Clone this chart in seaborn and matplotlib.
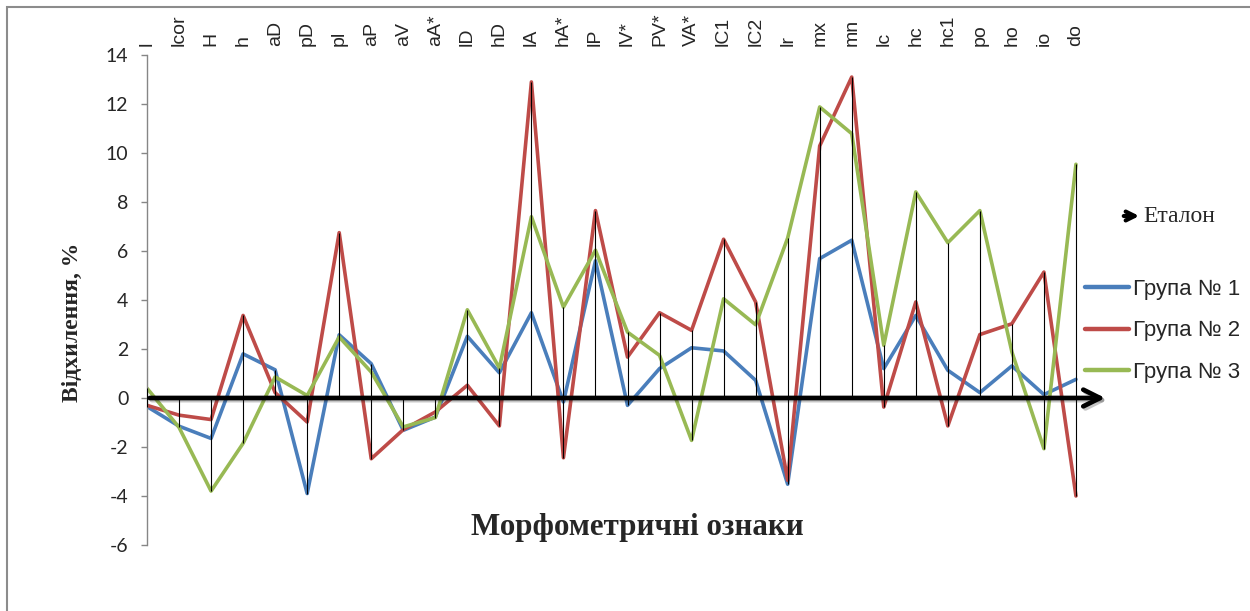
import numpy as np
import pandas as pd
import matplotlib
matplotlib.use("Agg")
import matplotlib.pyplot as plt
import matplotlib.patheffects as pe
from matplotlib.patches import Rectangle
import seaborn as sns

categories = ["l", "lcor", "H", "h", "aD", "pD", "pl", "aP", "aV", "aA*",
              "lD", "hD", "lA", "hA*", "lP", "lV*", "PV*", "VA*", "lC1", "lC2",
              "lr", "mx", "mn", "lc", "hc", "hc1", "po", "ho", "io", "do"]
group1 = [-0.35, -1.15, -1.65, 1.8, 1.15, -3.9, 2.58, 1.4, -1.32, -0.78,
          2.52, 1.03, 3.48, -0.16, 5.6, -0.3, 1.2, 2.05, 1.92, 0.72,
          -3.52, 5.69, 6.44, 1.2, 3.37, 1.13, 0.22, 1.31, 0.14, 0.76]
group2 = [-0.3, -0.7, -0.88, 3.37, 0.22, -0.98, 6.75, -2.48, -1.29, -0.57,
          0.52, -1.14, 12.9, -2.44, 7.65, 1.67, 3.48, 2.76, 6.48, 3.92,
          -3.36, 10.29, 13.1, -0.37, 3.92, -1.14, 2.59, 3.03, 5.14, -4.0]
group3 = [0.4, -1.2, -3.8, -1.85, 0.86, 0.1, 2.49, 1.06, -1.18, -0.8,
          3.6, 1.22, 7.4, 3.71, 6.03, 2.69, 1.74, -1.73, 4.05, 2.99,
          6.53, 11.88, 10.79, 2.15, 8.41, 6.34, 7.65, 1.88, -2.07, 9.54]
etalon = [0.0] * len(categories)
series_names = ["Група № 1", "Група № 2", "Група № 3"]
yticks = [-6, -4, -2, 0, 2, 4, 6, 8, 10, 12, 14]

sns.set_theme(style="white")
plt.rcParams["font.family"] = ["Liberation Sans", "DejaVu Sans"]

idx = np.arange(len(categories))
df = pd.DataFrame({
    "x": np.concatenate([idx, idx, idx]),
    "value": group1 + group2 + group3,
    "series": np.repeat(series_names, len(categories)),
})

W, H = 1250, 611
fig = plt.figure(figsize=(W / 100, H / 100), dpi=100)
ax = fig.add_axes([147 / W, 1 - 545 / H, (1108 - 147) / W, (545 - 55) / H])

palette = {"Група № 1": "#4A7EBB", "Група № 2": "#BE4B48", "Група № 3": "#98B954"}
sns.lineplot(data=df, x="x", y="value", hue="series", palette=palette,
             linewidth=2.6, ax=ax, legend=True, zorder=2)
handles, labels = ax.get_legend_handles_labels()
ax.get_legend().remove()

# high-low lines (including the reference series at 0)
stack = np.vstack([group1, group2, group3, etalon])
ax.vlines(idx, stack.min(axis=0), stack.max(axis=0), color="black", lw=0.8, zorder=3)

# reference (Еталон) as arrowed zero line
ax.annotate("", xy=(30, etalon[-1]), xytext=(0, etalon[0]),
            arrowprops=dict(arrowstyle="->", lw=3.4, color="black", mutation_scale=30,
                            path_effects=[pe.SimpleLineShadow(offset=(1.5, -1.5), alpha=0.25),
                                          pe.Normal()]),
            zorder=4)

ax.set_xlim(0, 30)
ax.set_ylim(-6, 14)
ax.set_yticks(yticks)
ax.set_yticklabels([str(v) for v in yticks], fontfamily="Lato", fontsize=14)
ax.set_xticks(idx)
ax.set_xticklabels(categories, rotation=90, fontsize=14)
ax.xaxis.tick_top()
ax.tick_params(axis="x", length=0, pad=6.5, top=True, bottom=False, labeltop=True, labelbottom=False)
ax.tick_params(axis="y", left=True, length=4.5, width=1, color="#868686", pad=9, direction="out")
for s in ["top", "right", "bottom"]:
    ax.spines[s].set_visible(False)
ax.spines["left"].set_color("#868686")
ax.spines["left"].set_linewidth(1)
ax.set_xlabel("")
ax.set_ylabel("")

fig.text(637 / W, 1 - 527 / H, "Морфометричні ознаки", fontfamily="Liberation Serif",
         fontweight="bold", fontsize=22.3, ha="center", va="center")
fig.text(72 / W, 1 - 322 / H, "Відхилення, %", fontfamily="Liberation Serif",
         fontweight="bold", fontsize=17, ha="center", va="center", rotation=90)

# legend
leg = ax.legend(handles, labels, loc="upper left", bbox_to_anchor=(1085 / W, 1 - 279 / H),
                bbox_transform=fig.transFigure, frameon=False, fontsize=16,
                handlelength=2.0, handletextpad=0.15, labelspacing=0.92,
                borderpad=0, borderaxespad=0)
for line in leg.get_lines():
    line.set_linewidth(3.2)

fig.text(1143 / W, 1 - 216 / H, "Еталон", fontfamily="Liberation Serif", fontsize=17,
         ha="left", va="center")
fig.patches.append(matplotlib.patches.FancyArrowPatch(
    (1121 / W, 1 - 216 / H), (1142 / W, 1 - 216 / H), transform=fig.transFigure,
    arrowstyle="->", lw=3.0, color="black", mutation_scale=16))

# chart border (top & left visible)
fig.patches.append(Rectangle((7 / W, -0.1), 1.2, 1 - 7 / H + 0.1, transform=fig.transFigure,
                             fill=False, edgecolor="#8c8c8c", lw=1.5))

fig.savefig("out.png", dpi=100)
